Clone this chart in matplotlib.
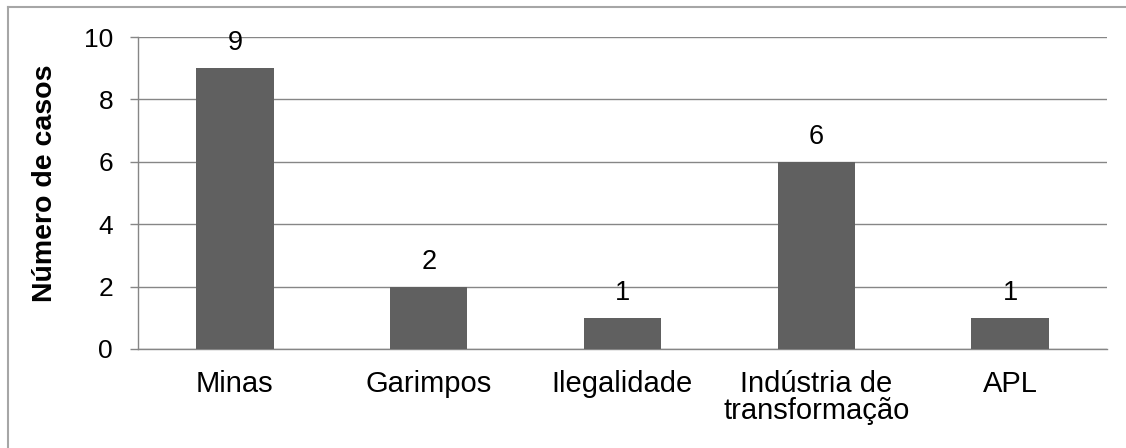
import matplotlib
matplotlib.use("Agg")
import matplotlib.pyplot as plt
from matplotlib.lines import Line2D

categories = ["Minas", "Garimpos", "Ilegalidade", "Indústria de\ntransformação", "APL"]
values = [9, 2, 1, 6, 1]
yticks = [0, 2, 4, 6, 8, 10]

plt.rcParams['font.family'] = ['Liberation Sans', 'DejaVu Sans']

W, H = 1126, 448
fig = plt.figure(figsize=(W / 100, H / 100), dpi=100)
ax = fig.add_axes([138 / W, 1 - 349 / H, (1107 - 138) / W, (349 - 37) / H])

x = list(range(len(categories)))
ax.bar(x, values, width=0.40, color='#606060', zorder=3)
ax.set_xlim(-0.5, len(categories) - 0.5)
ax.set_ylim(0, 10)
ax.set_yticks(yticks)
ax.set_yticklabels([str(t) for t in yticks], fontsize=19)
ax.set_xticks(x)
ax.set_xticklabels(categories, fontsize=21, linespacing=0.98, va='top')
ax.tick_params(axis='x', length=0, pad=15)
ax.tick_params(axis='y', length=6, width=1, color='#868686', pad=12)
ax.yaxis.grid(True, color='#868686', linewidth=1, zorder=0)
for s in ['top', 'right']:
    ax.spines[s].set_visible(False)
for s in ['left', 'bottom']:
    ax.spines[s].set_color('#868686')
    ax.spines[s].set_linewidth(1)

for xi, v in zip(x, values):
    ax.annotate(str(v), (xi, v), xytext=(0, 13), textcoords='offset points',
                ha='center', va='baseline', fontsize=19.5)

ax.set_ylabel("Número de casos", fontsize=20.5, fontweight='bold')
ax.yaxis.set_label_coords((58 - 138) / 969, 0.53)

fig.add_artist(Line2D([8 / W, 8 / W], [0, 1 - 7 / H], transform=fig.transFigure,
                      color='#a6a6a6', linewidth=1.5))
fig.add_artist(Line2D([8 / W, 1], [1 - 7 / H, 1 - 7 / H], transform=fig.transFigure,
                      color='#a6a6a6', linewidth=1.5))

fig.savefig("out.png", dpi=100)
